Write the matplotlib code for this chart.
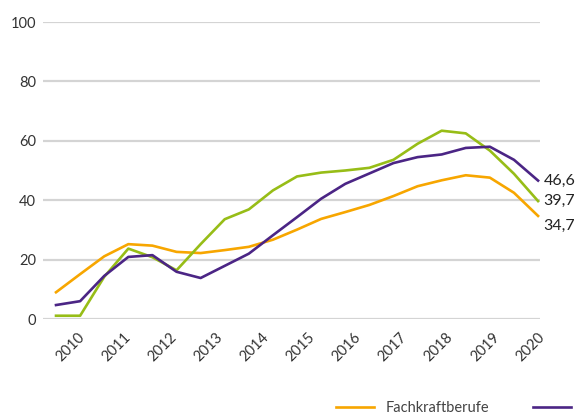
import numpy as np
import matplotlib
matplotlib.use("Agg")
import matplotlib.pyplot as plt

# half-year steps 2010 .. 2020
years = [2010, 2011, 2012, 2013, 2014, 2015, 2016, 2017, 2018, 2019, 2020]
periods = np.arange(2010, 2020.01, 0.5)

fachkraft = [9.0, 15.1, 21.1, 25.2, 24.7, 22.6, 22.2, 23.2, 24.3, 26.7, 30.1,
             33.7, 36.0, 38.4, 41.4, 44.7, 46.7, 48.4, 47.6, 42.5, 34.7]
spezialist = [4.7, 6.0, 14.5, 20.9, 21.5, 15.9, 13.8, 17.9, 22.0, 28.2, 34.3,
              40.5, 45.5, 49.0, 52.5, 54.5, 55.4, 57.6, 58.0, 53.6, 46.6]
experte = [1.1, 1.1, 14.2, 23.7, 20.8, 16.4, 25.2, 33.6, 36.9, 43.3, 48.0,
           49.3, 50.0, 50.9, 53.6, 59.0, 63.4, 62.5, 56.7, 48.9, 39.7]

plt.rcParams['font.family'] = ['Lato', 'DejaVu Sans']

fig = plt.figure(figsize=(5.81, 4.19), dpi=100)
ax = fig.add_axes([43 / 581, 100 / 419, 497 / 581, 297 / 419])

orange = '#f7a600'
green = '#97bd17'
purple = '#4b2585'

ax.plot(periods, fachkraft, color=orange, lw=1.9, label='Fachkraftberufe', zorder=3)
ax.plot(periods, experte, color=green, lw=1.9, label='Expertenberufe', zorder=3)
ax.plot(periods, spezialist, color=purple, lw=1.9, label='Spezialistenberufe', zorder=3)

ax.set_ylim(0, 100)
ax.set_xlim(2009.73, 2020.04)
ax.set_yticks([0, 20, 40, 60, 80, 100])
ax.yaxis.grid(True, color='#d4d4d4', lw=1.6)
ax.set_axisbelow(True)
for s in ax.spines.values():
    s.set_visible(False)
ax.tick_params(axis='y', length=0, pad=5, labelsize=10.5, labelcolor='#333333')

# category-style labels, slightly compressed towards the right
ax.set_xticks(np.linspace(2010.45, 2020, len(years)))
ax.set_xticklabels([str(y) for y in years], rotation=45, ha='right',
                   rotation_mode='anchor', fontsize=10.5, color='#333333')
ax.tick_params(axis='x', length=0, pad=8)

# end values
ends = [(spezialist[-1], 0), (experte[-1], 0), (fachkraft[-1], -7)]
for v, dy in ends:
    ax.annotate(f"{v:.1f}".replace('.', ','), xy=(periods[-1], v),
                xytext=(4, dy), textcoords='offset points', va='center',
                ha='left', fontsize=11.5, color='#222222', annotation_clip=False)

# legend runs off the right edge in the original, only the purple key shows
handles, labels = ax.get_legend_handles_labels()
fig.legend([handles[0], handles[2]], [labels[0], ''],
           loc='center left', bbox_to_anchor=(336 / 581, 11 / 419),
           ncol=2, frameon=False, fontsize=10.5, handlelength=2.6,
           handletextpad=0.8, columnspacing=3.0, borderpad=0,
           borderaxespad=0, labelcolor='#444444')

fig.savefig('out.png', dpi=100)
